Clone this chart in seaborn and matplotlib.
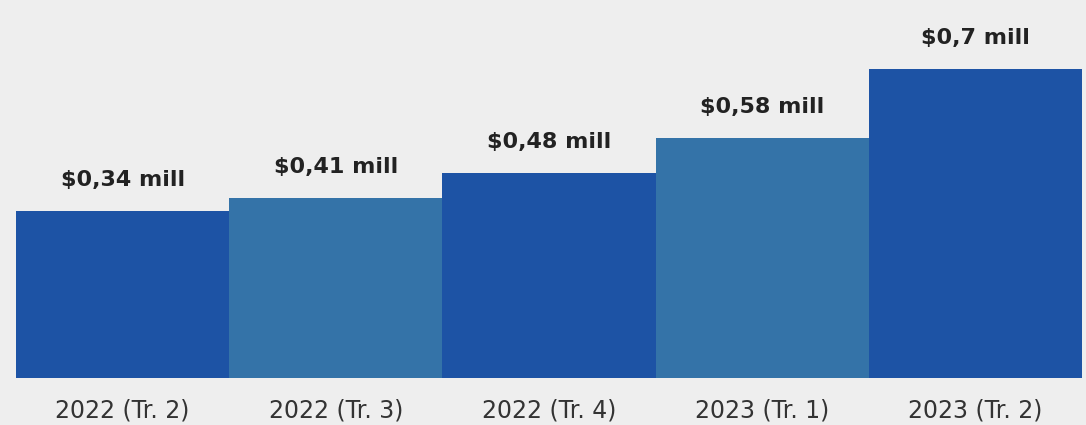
import matplotlib
matplotlib.use("Agg")
import matplotlib.pyplot as plt
import seaborn as sns
import pandas as pd

categories = ["2022 (Tr. 2)", "2022 (Tr. 3)", "2022 (Tr. 4)", "2023 (Tr. 1)", "2023 (Tr. 2)"]
# bar heights (million $)
values = [0.34, 0.367, 0.418, 0.489, 0.629]
value_labels = ["$0,34 mill", "$0,41 mill", "$0,48 mill", "$0,58 mill", "$0,7 mill"]
bar_colors = ["#1d53a5", "#3473a8", "#1d53a5", "#3473a8", "#1d53a5"]

sns.set_theme(style="white")
plt.rcParams["font.family"] = ["DejaVu Sans"]

bg = "#eeeeee"
fig = plt.figure(figsize=(10.86, 4.25), dpi=100, facecolor=bg)
ax = fig.add_axes([16 / 1086, 47 / 425, 1066 / 1086, 378 / 425])
ax.set_facecolor(bg)

df = pd.DataFrame({"cat": categories, "val": values})
sns.barplot(data=df, x="cat", y="val", hue="cat", palette=bar_colors,
            width=1.0, saturation=1, legend=False, ax=ax, linewidth=0)

ax.set_xlim(-0.5, len(categories) - 0.5)
ax.set_ylim(0, 0.77)
for s in ax.spines.values():
    s.set_visible(False)
ax.set_yticks([])
ax.set_xlabel("")
ax.set_ylabel("")
ax.tick_params(axis="x", length=0, pad=15, labelsize=17, labelcolor="#333333")

for i, (v, lab) in enumerate(zip(values, value_labels)):
    ax.annotate(lab, (i, v), xytext=(0, 18), textcoords="offset points",
                ha="center", va="baseline", fontsize=16, fontweight="bold",
                color="#222222", annotation_clip=False)

fig.savefig("out.png", dpi=100, facecolor=bg)
